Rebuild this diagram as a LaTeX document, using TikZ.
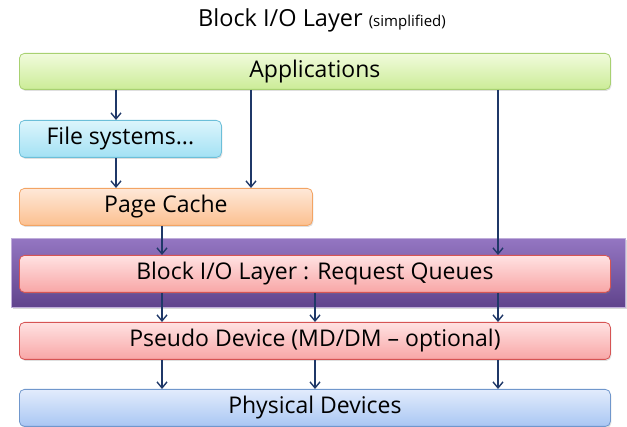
\documentclass[tikz,border=0pt]{standalone}
\usepackage{fontspec}
\setmainfont{Open Sans}
\usepackage{tikz}
\usetikzlibrary{
  arrows.meta,
  positioning,
  shadows,
  calc
}
\definecolor{ioArrow}{HTML}{1F3868}
\definecolor{ioAppTop}{HTML}{F1FBDC}
\definecolor{ioAppBot}{HTML}{CBEC97}
\definecolor{ioAppLine}{HTML}{A8D171}
\definecolor{ioFsTop}{HTML}{DCF5FC}
\definecolor{ioFsBot}{HTML}{A3E1F4}
\definecolor{ioFsLine}{HTML}{6CBFD9}
\definecolor{ioCacheTop}{HTML}{FEE8D8}
\definecolor{ioCacheBot}{HTML}{FCC090}
\definecolor{ioCacheLine}{HTML}{F3A464}
\definecolor{ioQueueTop}{HTML}{FFE2E2}
\definecolor{ioQueueBot}{HTML}{F8A6A6}
\definecolor{ioQueueLine}{HTML}{D65454}
\definecolor{ioPhysTop}{HTML}{E2ECFC}
\definecolor{ioPhysBot}{HTML}{A9C6F3}
\definecolor{ioPhysLine}{HTML}{7097CC}
\definecolor{ioBandTop}{HTML}{9476C2}
\definecolor{ioBandMid}{HTML}{7A5CA7}
\definecolor{ioBandBot}{HTML}{60438C}
\tikzset{
  layer/.style={
    draw, rounded corners=5pt, anchor=north west, inner sep=0pt,
    minimum width=591pt, minimum height=37pt, line width=0.8pt,
    font=\fontsize{23}{26}\selectfont,
    drop shadow={opacity=0.25, shadow xshift=1pt, shadow yshift=-1.5pt}
  },
  appbox/.style={layer, top color=ioAppTop, bottom color=ioAppBot, draw=ioAppLine},
  fsbox/.style={layer, top color=ioFsTop, bottom color=ioFsBot, draw=ioFsLine},
  cachebox/.style={layer, top color=ioCacheTop, bottom color=ioCacheBot, draw=ioCacheLine},
  queuebox/.style={layer, top color=ioQueueTop, bottom color=ioQueueBot, draw=ioQueueLine},
  physbox/.style={layer, top color=ioPhysTop, bottom color=ioPhysBot, draw=ioPhysLine},
  band/.style={
    draw=ioBandTop!60!white, anchor=north west, inner sep=0pt, line width=0.6pt,
    minimum width=614pt, minimum height=69pt,
    top color=ioBandTop, middle color=ioBandMid, bottom color=ioBandBot,
    drop shadow={opacity=0.3, shadow xshift=1.5pt, shadow yshift=-1.5pt}
  },
  heading/.style={font=\fontsize{23.5}{26}\selectfont, inner sep=0pt},
  flow/.style={-{Straight Barb[length=6pt, width=10pt]}, line width=1.4pt, ioArrow}
}

\begin{document}
\begin{tikzpicture}[x=1pt, y=-1pt]
  \useasboundingbox (0,0) rectangle (627,427);

  \node[heading] (title) at (322,20)
    {Block I/O Layer {\fontsize{15}{17}\selectfont (simplified)}};

  % stack of layers, top to bottom
  \node[appbox, minimum height=36pt] (apps) at (19,53) {Applications};
  \node[fsbox, minimum width=202pt] (fs) at (19,120) {File systems...};
  \node[cachebox, minimum width=293pt] (cache) at (19,188) {Page Cache};
  \node[band] (band) at (11,238) {};
  \node[queuebox] (queue) at (19,255) {Block I/O Layer : Request Queues};
  \node[queuebox] (pseudo) at (19,322) {Pseudo Device (MD/DM -- optional)};
  \node[physbox] (phys) at (19,389) {Physical Devices};

  % arrow columns
  \coordinate (colA) at (116,0);
  \coordinate (colB) at (251,0);
  \coordinate (colC) at (498,0);
  \coordinate (colD) at (162,0);
  \coordinate (colE) at (315,0);

  \draw[flow] (apps.south -| colA) -- (fs.north -| colA);
  \draw[flow] (fs.south -| colA) -- (cache.north -| colA);
  \draw[flow] (apps.south -| colB) -- (cache.north -| colB);
  \draw[flow] (apps.south -| colC) -- (queue.north -| colC);
  \draw[flow] (cache.south -| colD) -- (queue.north -| colD);
  \foreach \col in {colD,colE,colC} {
    \draw[flow] (queue.south -| \col) -- (pseudo.north -| \col);
    \draw[flow] (pseudo.south -| \col) -- (phys.north -| \col);
  }
\end{tikzpicture}
\end{document}
